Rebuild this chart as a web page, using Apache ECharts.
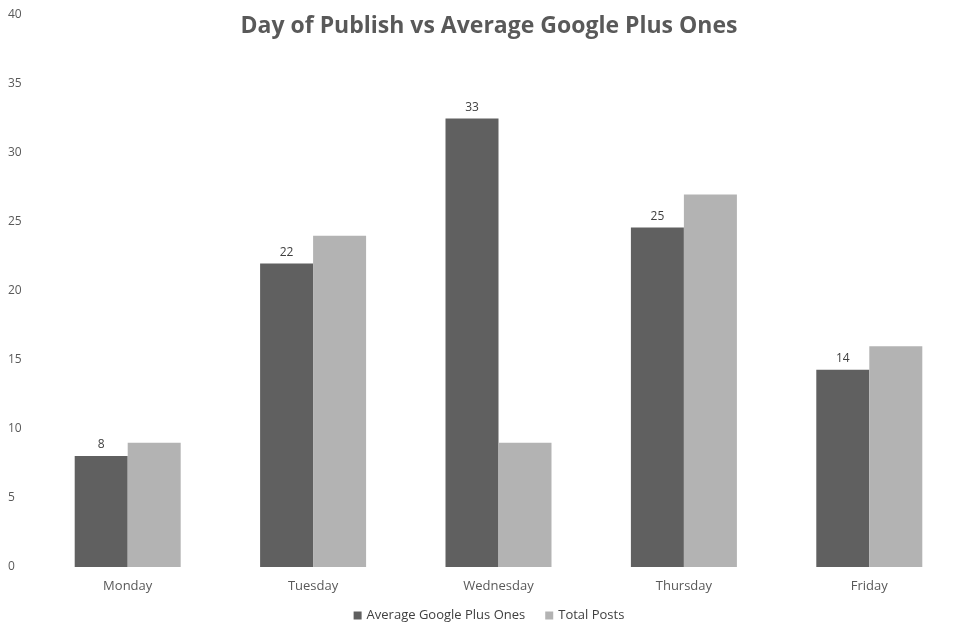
<!DOCTYPE html>
<html><head><meta charset="utf-8">
<script src="https://cdn.jsdelivr.net/npm/echarts@6/dist/echarts.min.js"></script>
<style>html,body{margin:0;padding:0;background:#fff}#c{width:978px;height:639px}</style>
</head><body><div id="c"></div>
<script>
const categories = ['Monday','Tuesday','Wednesday','Thursday','Friday'];
const avgPlusOnes = [8.05, 22, 32.5, 24.6, 14.3];
const totalPosts = [9, 24, 9, 27, 16];
const chart = echarts.init(document.getElementById('c'));
const font = "'Open Sans', sans-serif";
chart.setOption({
  animation:false,
  title:{text:'Day of Publish vs Average Google Plus Ones',left:'center',top:10,
    textStyle:{fontFamily:font,fontSize:23,fontWeight:'bold',color:'#595959'}},
  legend:{bottom:12,itemWidth:8,itemHeight:8,icon:'rect',itemGap:20,
    textStyle:{fontFamily:font,fontSize:13,color:'#404040'}},
  grid:{left:35,right:16,top:15,bottom:72},
  xAxis:{type:'category',data:categories,axisLine:{show:false},axisTick:{show:false},
    axisLabel:{fontFamily:font,fontSize:13,color:'#595959',margin:13}},
  yAxis:{type:'value',min:0,max:40,interval:5,splitLine:{show:false},
    axisLabel:{fontFamily:font,fontSize:12,color:'#595959',margin:27,align:'left'}},
  series:[
    {name:'Average Google Plus Ones',type:'bar',data:avgPlusOnes,barWidth:53,barGap:'0%',
      itemStyle:{color:'#606060'},
      label:{show:true,position:'top',fontFamily:font,fontSize:12,color:'#404040',
        formatter:p=>Math.round(p.value)}},
    {name:'Total Posts',type:'bar',data:totalPosts,barWidth:53,itemStyle:{color:'#b3b3b3'}}
  ]
});
</script></body></html>
